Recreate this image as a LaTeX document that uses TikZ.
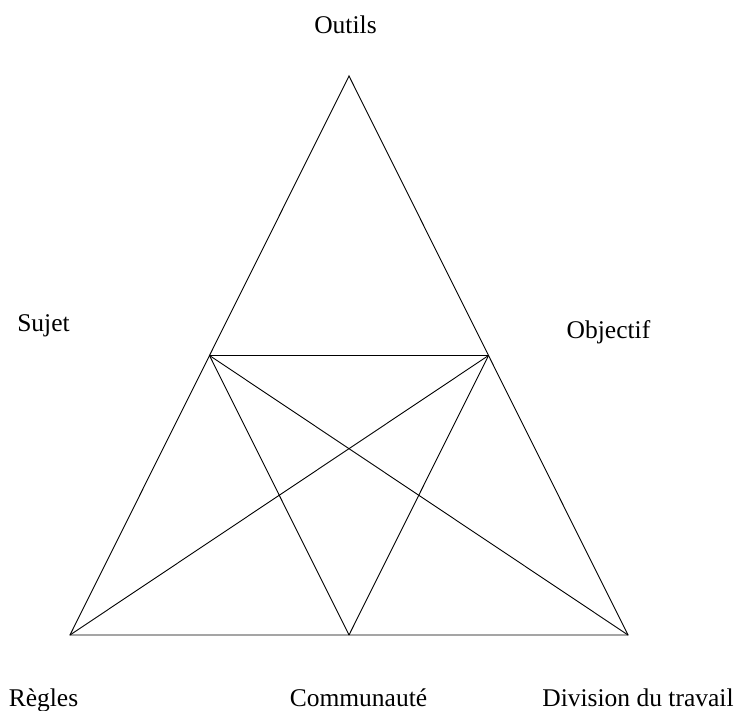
\documentclass[tikz,border=0pt]{standalone}
\usepackage{fontspec}
\setmainfont{Liberation Serif}
\begin{document}
\begin{tikzpicture}[x=1pt,y=-1pt,
  lbl/.style={anchor=base,inner sep=0pt,font=\fontsize{25.5}{30}\selectfont},
  bottomlbl/.style={lbl,text depth=0pt},
  edge/.style={line width=0.9pt,black}]
\useasboundingbox (0,0) rectangle (739,711);
\coordinate (A) at (349,76);
\coordinate (B) at (70,635);
\coordinate (C) at (628,635);
\coordinate (D) at (209.5,355.5);
\coordinate (E) at (488.5,355.5);
\coordinate (F) at (349,635);
\draw[edge] (A) -- (B) -- (C) -- cycle;
\draw[edge] (D) -- (E);
\draw[edge] (D) -- (F);
\draw[edge] (E) -- (F);
\draw[edge] (D) -- (C);
\draw[edge] (E) -- (B);
\node[lbl] (outils) at (345.5,34) {Outils};
\node[lbl] (sujet) at (43.5,332) {Sujet};
\node[lbl] (objectif) at (608.5,338) {Objectif};
\node[bottomlbl] (regles) at (43.5,706) {Règles};
\node[bottomlbl] (communaute) at (358.5,706) {Communauté};
\node[bottomlbl] (division) at (638,706) {Division du travail};
\end{tikzpicture}
\end{document}
